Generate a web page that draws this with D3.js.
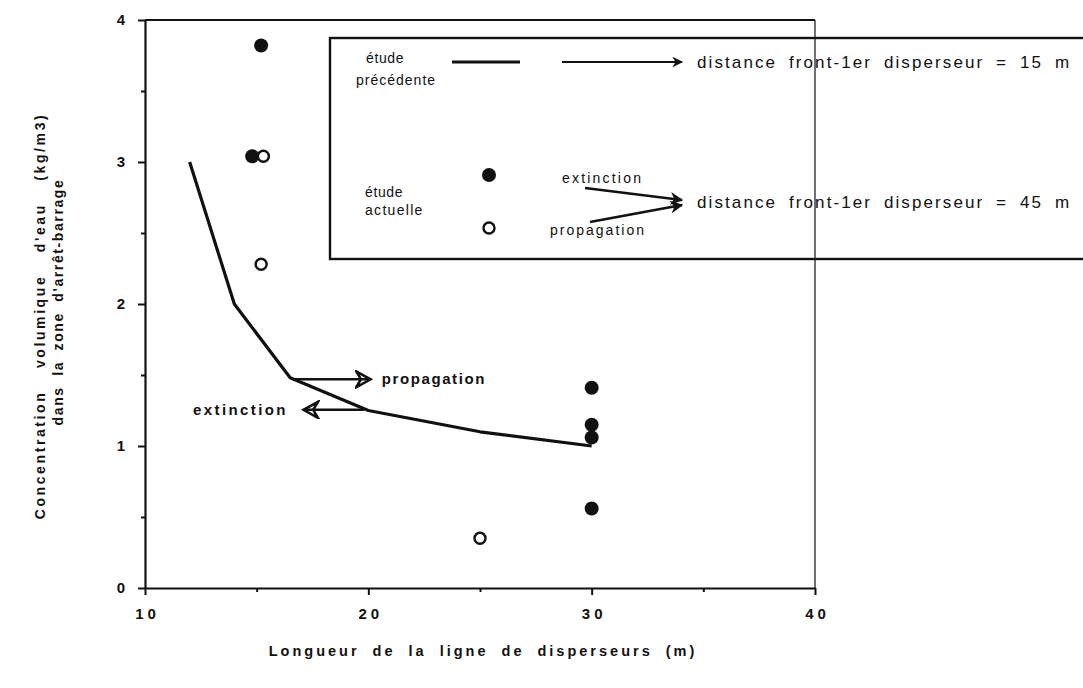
<!DOCTYPE html>
<html><head><meta charset="utf-8">
<script src="https://cdn.jsdelivr.net/npm/d3@7"></script>
<style>
body{margin:0;background:#fff;}
text{font-family:"Liberation Sans",Arial,sans-serif;fill:#111;}
</style></head>
<body><svg id="c" width="1083" height="688"></svg>
<script>
// Data
const previousStudyX = [12, 14, 16.5, 20, 25, 30];
const previousStudyY = [3.0, 2.0, 1.48, 1.25, 1.1, 1.0];
const extinctionX = [15.2, 14.8, 30, 30, 30, 30];
const extinctionY = [3.82, 3.04, 1.41, 1.15, 1.06, 0.56];
const propagationX = [15.3, 15.2, 25];
const propagationY = [3.04, 2.28, 0.35];
const xTicks = [10, 15, 20, 25, 30, 35, 40];
const xTickLabels = ["10", "", "20", "", "30", "", "40"];
const yTicks = [0, 0.5, 1, 1.5, 2, 2.5, 3, 3.5, 4];
const yTickLabels = ["0", "", "1", "", "2", "", "3", "", "4"];

const svg = d3.select("#c");
const x = d3.scaleLinear().domain([10, 40]).range([145, 815]);
const y = d3.scaleLinear().domain([0, 4]).range([588, 20]);
const ink = "#111";

// arrow markers
const defs = svg.append("defs");
defs.append("marker").attr("id","solid").attr("viewBox","0 0 10 10").attr("refX",9).attr("refY",5)
  .attr("markerWidth",7).attr("markerHeight",6).attr("orient","auto").attr("markerUnits","strokeWidth")
  .append("path").attr("d","M0,0 L10,5 L0,10 L3,5 Z").attr("fill",ink);
defs.append("marker").attr("id","solid2").attr("viewBox","0 0 10 10").attr("refX",9).attr("refY",5)
  .attr("markerWidth",5).attr("markerHeight",5).attr("orient","auto").attr("markerUnits","strokeWidth")
  .append("path").attr("d","M0,0 L10,5 L0,10 L3,5 Z").attr("fill",ink);
defs.append("marker").attr("id","open").attr("viewBox","0 0 12 12").attr("refX",10).attr("refY",6)
  .attr("markerWidth",8).attr("markerHeight",8).attr("orient","auto").attr("markerUnits","strokeWidth")
  .append("path").attr("d","M1,1 L10,6 L1,11 L4,6 Z").attr("fill","none").attr("stroke",ink).attr("stroke-width",1.6).attr("stroke-linejoin","miter");

// frame top & right
svg.append("line").attr("x1",x(10)).attr("x2",x(40)).attr("y1",y(4)).attr("y2",y(4)).attr("stroke",ink).attr("stroke-width",2);
svg.append("line").attr("x1",x(40)).attr("x2",x(40)).attr("y1",y(4)).attr("y2",y(0)).attr("stroke",ink).attr("stroke-width",1.2);

// axes
const xAxis = d3.axisBottom(x).tickValues(xTicks).tickSizeOuter(0)
  .tickFormat((d,i)=>xTickLabels[i]).tickPadding(14);
const gx = svg.append("g").attr("transform",`translate(0,${y(0)})`).call(xAxis);
gx.select(".domain").attr("stroke",ink).attr("stroke-width",2.2);
gx.selectAll(".tick line").attr("stroke",ink).attr("stroke-width",2).attr("y2",(d,i)=>xTickLabels[i]? 7:4);
gx.selectAll(".tick text").attr("font-size",15).attr("font-weight","bold").attr("letter-spacing","4px").attr("fill",ink)
  .attr("dx","2px");

const yAxis = d3.axisLeft(y).tickValues(yTicks).tickSizeOuter(0)
  .tickFormat((d,i)=>yTickLabels[i]).tickPadding(14);
const gy = svg.append("g").attr("transform",`translate(${x(10)},0)`).call(yAxis);
gy.select(".domain").attr("stroke",ink).attr("stroke-width",2.2);
gy.selectAll(".tick line").attr("stroke",ink).attr("stroke-width",2).attr("x2",(d,i)=>yTickLabels[i]? -7:-4);
gy.selectAll(".tick text").attr("font-size",15).attr("font-weight","bold").attr("fill",ink);

// axis titles
svg.append("text").attr("x",483).attr("y",656).attr("text-anchor","middle").attr("font-size",14.5)
  .attr("font-weight","bold").attr("letter-spacing","3px").attr("word-spacing","6px")
  .text("Longueur de la ligne de disperseurs (m)");
svg.append("text").attr("transform","translate(45,316) rotate(-90)").attr("text-anchor","middle").attr("font-size",14)
  .attr("font-weight","bold").attr("letter-spacing","2.6px").attr("word-spacing","16px")
  .text("Concentration volumique d'eau (kg/m3)");
svg.append("text").attr("transform","translate(63,302) rotate(-90)").attr("text-anchor","middle").attr("font-size",14)
  .attr("font-weight","bold").attr("letter-spacing","1.6px").attr("word-spacing","5px")
  .text("dans la zone d'arrêt-barrage");

// previous-study line
const pts = previousStudyX.map((v,i)=>[v, previousStudyY[i]]);
svg.append("path").datum(pts).attr("d", d3.line().x(d=>x(d[0])).y(d=>y(d[1])))
  .attr("fill","none").attr("stroke",ink).attr("stroke-width",3.2).attr("stroke-linejoin","round");

// points
svg.selectAll(".ext").data(extinctionX.map((v,i)=>[v, extinctionY[i]])).join("circle")
  .attr("cx",d=>x(d[0])).attr("cy",d=>y(d[1])).attr("r",7).attr("fill",ink);
svg.selectAll(".prop").data(propagationX.map((v,i)=>[v, propagationY[i]])).join("circle")
  .attr("cx",d=>x(d[0])).attr("cy",d=>y(d[1])).attr("r",5.5).attr("fill","#fff").attr("stroke",ink).attr("stroke-width",2.4);

// in-plot annotations
svg.append("line").attr("x1",x(16.6)).attr("y1",y(1.47)).attr("x2",x(20.1)).attr("y2",y(1.47))
  .attr("stroke",ink).attr("stroke-width",2.4).attr("marker-end","url(#open)");
svg.append("text").attr("x",x(20.6)).attr("y",y(1.47)+5).attr("font-size",15).attr("font-weight","bold").attr("letter-spacing","1.6px").text("propagation");
svg.append("line").attr("x1",x(19.8)).attr("y1",y(1.255)).attr("x2",x(17.1)).attr("y2",y(1.255))
  .attr("stroke",ink).attr("stroke-width",2.4).attr("marker-end","url(#open)");
svg.append("text").attr("x",x(16.4)).attr("y",y(1.255)+5).attr("text-anchor","end").attr("font-size",15).attr("font-weight","bold").attr("letter-spacing","2.4px").text("extinction");

// legend box
svg.append("rect").attr("x",330).attr("y",38).attr("width",800).attr("height",221)
  .attr("fill","none").attr("stroke",ink).attr("stroke-width",2.4);
const lg = svg.append("g");
lg.append("text").attr("x",366).attr("y",63).attr("font-size",14).attr("letter-spacing","0.6px").text("étude");
lg.append("text").attr("x",356).attr("y",85).attr("font-size",14).attr("letter-spacing","1px").text("précédente");
lg.append("line").attr("x1",452).attr("x2",520).attr("y1",62).attr("y2",62).attr("stroke",ink).attr("stroke-width",3.2);
lg.append("line").attr("x1",562).attr("x2",682).attr("y1",62).attr("y2",62).attr("stroke",ink).attr("stroke-width",1.8).attr("marker-end","url(#solid)");
lg.append("text").attr("x",697).attr("y",68).attr("font-size",17).attr("letter-spacing","2.1px").attr("word-spacing","5px").text("distance front-1er disperseur = 15 m");

lg.append("text").attr("x",365).attr("y",197).attr("font-size",14).attr("letter-spacing","0.6px").text("étude");
lg.append("text").attr("x",365).attr("y",215).attr("font-size",14).attr("letter-spacing","1.3px").text("actuelle");
lg.append("circle").attr("cx",489).attr("cy",175).attr("r",7).attr("fill",ink);
lg.append("circle").attr("cx",489).attr("cy",228).attr("r",5.5).attr("fill","#fff").attr("stroke",ink).attr("stroke-width",2.4);
lg.append("text").attr("x",562).attr("y",183).attr("font-size",14).attr("letter-spacing","2.2px").text("extinction");
lg.append("text").attr("x",550).attr("y",235).attr("font-size",14).attr("letter-spacing","2px").text("propagation");
lg.append("line").attr("x1",585).attr("y1",188).attr("x2",682).attr("y2",200).attr("stroke",ink).attr("stroke-width",2.6).attr("marker-end","url(#solid2)");
lg.append("line").attr("x1",590).attr("y1",222).attr("x2",682).attr("y2",205).attr("stroke",ink).attr("stroke-width",2.6).attr("marker-end","url(#solid2)");
lg.append("text").attr("x",697).attr("y",208).attr("font-size",17).attr("letter-spacing","2.1px").attr("word-spacing","5px").text("distance front-1er disperseur = 45 m");
</script></body></html>
